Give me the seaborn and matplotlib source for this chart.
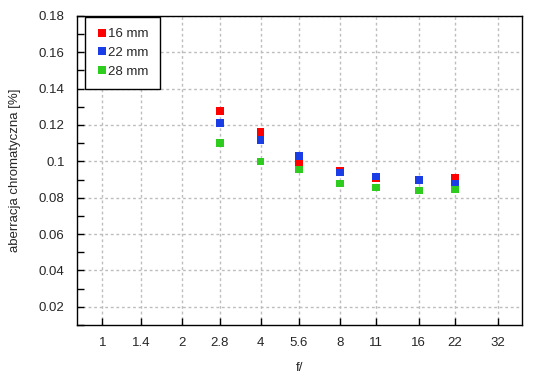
import pandas as pd
import matplotlib.pyplot as plt
import matplotlib.ticker as mticker
import seaborn as sns

# f-numbers measured
apertures = [2.8, 4, 5.6, 8, 11, 16, 22]

# chromatic aberration [%] per focal length
ca_16 = [0.1277, 0.1161, 0.0998, 0.0949, 0.0907, 0.0897, 0.0908]
ca_22 = [0.1211, 0.1117, 0.1028, 0.0939, 0.0917, 0.0897, 0.0878]
ca_28 = [0.1100, 0.1000, 0.0956, 0.0878, 0.0857, 0.0840, 0.0845]

series_names = ["16 mm", "22 mm", "28 mm"]
series_colors = ["#ff0000", "#1a3de6", "#2ecc1e"]

# x tick labels
f_ticks = [1, 1.4, 2, 2.8, 4, 5.6, 8, 11, 16, 22, 32]
f_labels = ["1", "1.4", "2", "2.8", "4", "5.6", "8", "11", "16", "22", "32"]

# long format table
frames = []
for name, vals in zip(series_names, [ca_16, ca_22, ca_28]):
    frames.append(pd.DataFrame({"f": apertures, "ca": vals, "series": name}))
data = pd.concat(frames, ignore_index=True)

sns.set_style("white")
plt.rcParams["font.family"] = ["Liberation Sans", "DejaVu Sans"]

fig = plt.figure(figsize=(5.5, 3.8), dpi=100)
ax = fig.add_axes([0.14, 0.145, 0.809, 0.813])

sns.scatterplot(
    data=data, x="f", y="ca", hue="series",
    palette=series_colors, marker="s", s=30, linewidth=0,
    ax=ax, zorder=3
)

# log scale for apertures
ax.set_xscale("log", base=2)
ax.set_xlim(0.8, 39.5)
ax.xaxis.set_major_locator(mticker.FixedLocator(f_ticks))
ax.xaxis.set_major_formatter(mticker.FixedFormatter(f_labels))
ax.xaxis.set_minor_locator(mticker.NullLocator())

ax.set_ylim(0.01, 0.18)
ax.yaxis.set_major_locator(mticker.MultipleLocator(0.02))
ax.yaxis.set_minor_locator(mticker.MultipleLocator(0.01))
ax.yaxis.set_major_formatter(mticker.FormatStrFormatter("%g"))

# grid lines
ax.grid(True, which="major", color="#bdbdbd", linestyle=(0, (2, 2)), linewidth=1)

for side in ax.spines.values():
    side.set_color("black")
    side.set_linewidth(1)

ax.tick_params(axis="both", which="both", direction="in", length=5,
               width=1, color="black", labelsize=9.5, pad=9,
               bottom=True, left=True, top=False, right=False)

ax.set_xlabel("f/", fontsize=9.5, labelpad=9)
ax.set_ylabel("aberracja chromatyczna [%]", fontsize=9.5, labelpad=13)

leg = ax.legend(loc="upper left", frameon=True, fancybox=False,
                fontsize=9.5, handletextpad=0.0, handlelength=0.9,
                borderpad=0.85, labelspacing=0.48, borderaxespad=0,
                bbox_to_anchor=(8 / 445, 1 - 1 / 309))
leg.get_frame().set_edgecolor("black")
leg.get_frame().set_linewidth(1)
leg.get_frame().set_alpha(1)

plt.savefig("out.png", dpi=100)
